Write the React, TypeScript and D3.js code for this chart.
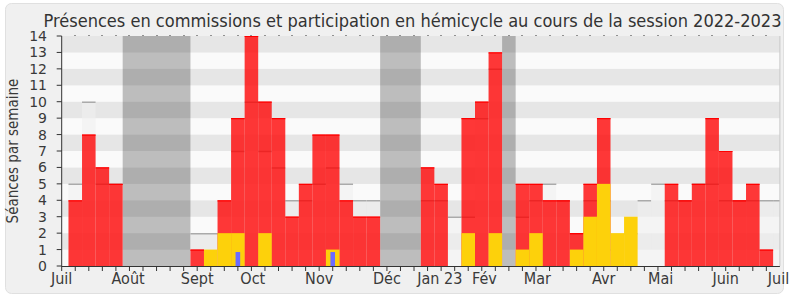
import React from "react";
import * as d3 from "d3";

// Week index (1..52) of the 2022-2023 session
const weeks = d3.range(1, 53);

// Participation en hémicycle (red), per week index 1..52
const hemicycle = [4, 8, 6, 5, 0, 0, 0, 0, 0, 1, 0, 4, 9, 14, 10, 9, 3, 5, 8, 8, 4, 3, 3, 0, 0, 0, 6, 5, 0, 9, 10, 13, 0, 5, 5, 4, 4, 2, 5, 9, 0, 0, 0, 0, 5, 4, 5, 9, 7, 4, 5, 1];

// Présences en commission (yellow), per week index 1..52
const commission = [0, 0, 0, 0, 0, 0, 0, 0, 0, 0, 1, 2, 2, 0, 2, 0, 0, 0, 0, 1, 0, 0, 0, 0, 0, 0, 0, 0, 0, 2, 0, 2, 0, 1, 2, 0, 0, 1, 3, 5, 2, 3, 0, 0, 0, 0, 0, 0, 0, 0, 0, 0];

// Interventions en commission (blue thin bars)
const interventionWeeks = [13, 20];
const interventionValues = [0.85, 0.85];

// Médiane des députés (light area), per week index 1..53
const medianWeeks = d3.range(1, 54);
const median = [5, 10, 5, 5, 0, 0, 0, 0, 0, 2, 2, 2, 7, 10, 7, 6, 4, 4, 5, 6, 5, 4, 4, 0, 0, 0, 4, 4, 3, 3, 9, 12, 0, 3, 4, 5, 4, 2, 4, 4, 1, 2, 4, 5, 4, 4, 5, 5, 4, 4, 4, 4, 4];

// Vacances parlementaires (week index ranges)
const vacationStart = [5, 24, 33];
const vacationEnd = [9, 26, 33];

// Month labels and their positions (week index)
const monthLabels = ["Juil", "Août", "Sept", "Oct", "Nov", "Déc", "Jan 23", "Fév", "Mar", "Avr", "Mai", "Juin", "Juil"];
const monthPos = [0, 4.9, 10, 14.1, 19, 24, 27.9, 31.2, 35.1, 40, 44.2, 49, 52.9];

const yTicks = d3.range(0, 15);

const W = 790;
const H = 300;
const FONT = "'DejaVu Sans', Verdana, sans-serif";

export default function App() {
  const x = d3.scaleLinear().domain([0, 53]).range([61.7, 779.9]);
  const y = d3.scaleLinear().domain([0, 14]).range([266, 36]);
  const x0 = x(0), x1 = x(53);
  const textColor = "#3a3a3a";

  return (
    <div style={{ position: "absolute", left: 0, top: 0 }}>
      <svg width={W} height={H} style={{ display: "block", background: "#fff" }}>
        <defs>
          <clipPath id="plot">
            <rect x={x0} y={y(14)} width={x1 - x0} height={y(0) - y(14)} />
          </clipPath>
        </defs>
        <rect x={5.5} y={3.5} width={778} height={290} rx={6} fill="#f0f0f0" stroke="#e0e0e0" />

        {/* background stripes */}
        {yTicks.slice(0, 14).map((v) => (
          <rect key={"s" + v} x={x0} y={y(v + 1)} width={x1 - x0} height={y(v) - y(v + 1)}
            fill={v % 2 === 1 ? "#e6e6e6" : "#fafafa"} />
        ))}

        <g clipPath="url(#plot)">
          {/* vacations */}
          {vacationStart.map((s, k) => (
            <rect key={"v" + k} x={x(s - 0.5)} y={y(14)} width={x(vacationEnd[k] + 0.5) - x(s - 0.5)}
              height={y(0) - y(14)} fill="#000" fillOpacity={0.245} />
          ))}

          {/* median area */}
          {medianWeeks.map((w, k) => median[k] > 0 ? (
            <g key={"m" + w}>
              <rect x={x(w - 0.5)} y={y(median[k])} width={x(w + 0.5) - x(w - 0.5)} height={y(0) - y(median[k])}
                fill="#f0f0f0" fillOpacity={0.6} />
              <line x1={x(w - 0.5)} x2={x(w + 0.5)} y1={y(median[k]) + 0.5} y2={y(median[k]) + 0.5}
                stroke="#aaa" strokeWidth={1.5} />
            </g>
          ) : null)}

          {/* hémicycle (red) */}
          {weeks.map((w, k) => hemicycle[k] > 0 ? (
            <g key={"r" + w}>
              <rect x={x(w - 0.5)} y={y(hemicycle[k])} width={x(w + 0.5) - x(w - 0.5)} height={y(0) - y(hemicycle[k])}
                fill="#ff0000" fillOpacity={0.78} />
              <line x1={x(w - 0.5)} x2={x(w + 0.5)} y1={y(hemicycle[k]) + 0.5} y2={y(hemicycle[k]) + 0.5}
                stroke="#f00" strokeWidth={1.2} />
            </g>
          ) : null)}

          {/* commission (yellow) */}
          {weeks.map((w, k) => commission[k] > 0 ? (
            <rect key={"y" + w} x={x(w - 0.5)} y={y(commission[k])} width={x(w + 0.5) - x(w - 0.5)}
              height={y(0) - y(commission[k])} fill="#fdd10b" />
          ) : null)}

          {/* interventions (blue) */}
          {interventionWeeks.map((w, k) => (
            <rect key={"b" + w} x={x(w - 0.17)} y={y(interventionValues[k])} width={x(w + 0.17) - x(w - 0.17)}
              height={y(0) - y(interventionValues[k])} fill="#6b6bff" />
          ))}
        </g>

        {/* right border */}
        <line x1={x1} x2={x1} y1={y(14)} y2={y(0)} stroke="#c8c8c8" />

        {/* top dotted ticks */}
        {weeks.map((w) => (
          <rect key={"t" + w} x={Math.round(x(w)) - 0.5} y={y(14) - 1} width={1} height={1} fill="#333" />
        ))}

        {/* axes */}
        <line x1={x0} x2={x0} y1={y(14)} y2={y(0)} stroke="#333" />
        <line x1={x0} x2={x1} y1={y(0) + 0.5} y2={y(0) + 0.5} stroke="#333" />
        {d3.range(0, 53).map((w) => (
          <line key={"bt" + w} x1={x(w)} x2={x(w)} y1={y(0)} y2={y(0) + 5} stroke="#333" />
        ))}
        {yTicks.map((v) => (
          <g key={"yt" + v}>
            <line x1={x0 - 5} x2={x0} y1={y(v)} y2={y(v)} stroke="#333" />
            <text x={47} y={y(v)} dy="0.36em" textAnchor="end" fontFamily={FONT}
              fontSize={14} fill={textColor}>{v}</text>
          </g>
        ))}
        {monthLabels.map((m, k) => (
          <text key={"ml" + k} x={x(monthPos[k])} y={284} textAnchor="middle" fontFamily={FONT}
            fontStretch="condensed" fontSize={16} fill={textColor}>{m}</text>
        ))}

        <text transform={`translate(18,${(y(0) + y(14)) / 2}) rotate(-90)`} textAnchor="middle" fontFamily={FONT}
          fontStretch="condensed" fontSize={15} fill={textColor}>Séances par semaine</text>

        <text x={412.5} y={27} textAnchor="middle" fontFamily={FONT} fontStretch="condensed" fontSize={18}
          fill="#333" textLength={738} lengthAdjust="spacingAndGlyphs">
          Présences en commissions et participation en hémicycle au cours de la session 2022-2023
        </text>
      </svg>
    </div>
  );
}
